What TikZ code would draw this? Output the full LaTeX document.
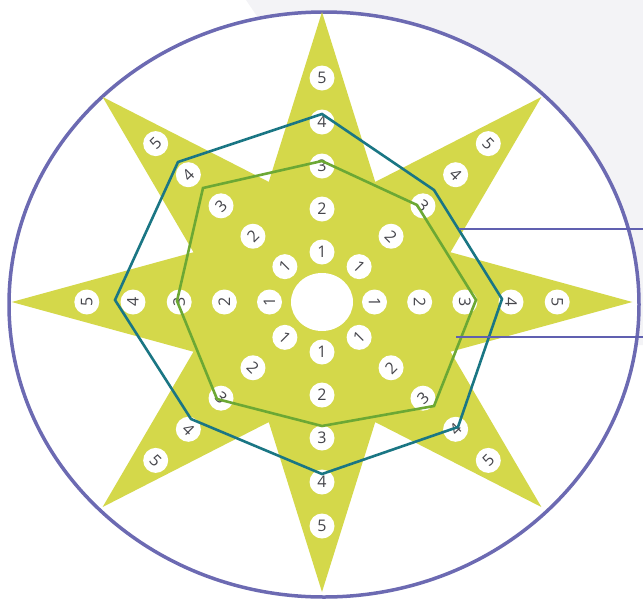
\documentclass[tikz,border=0pt]{standalone}
\usepackage{fontspec}
\setsansfont{Open Sans}
\definecolor{starfill}{RGB}{212,216,74}
\definecolor{rim}{RGB}{108,106,178}
\definecolor{tealline}{RGB}{26,118,132}
\definecolor{greenline}{RGB}{108,168,52}
\definecolor{digitgray}{RGB}{70,70,76}
\definecolor{bgshade}{RGB}{243,243,246}
\definecolor{leader}{RGB}{96,96,176}
\tikzset{
  numdot/.style={circle, fill=white, inner sep=0pt, minimum size=25pt,
    font=\sffamily\fontsize{16}{16}\selectfont, text=digitgray},
  octo/.style={line width=2.6pt, line join=miter},
  leadline/.style={draw=leader, line width=1.2pt}
}
\begin{document}
\begin{tikzpicture}[x=1pt,y=-1pt]
\useasboundingbox (0,0) rectangle (643,598);
% faint page shading top right
\fill[bgshade] (246,0) -- (643,0) -- (643,345) -- (480,345) -- cycle;
% outer ellipse
\draw[rim, line width=3.5pt, fill=white] (324,304.5) ellipse [x radius=315, y radius=292.5];
% star
\fill[starfill] (632.3,302)
  \foreach \i [evaluate=\i as \r using {isodd(\i)?130:290}] in {1,...,15}
  { -- ({322+1.07*\r*cos(22.5*\i)},{302-\r*sin(22.5*\i)}) } -- cycle;
% central hole
\fill[white] (322,302) ellipse [x radius=31, y radius=29];
% numbered dots
\foreach \a [count=\k] in {0,45,...,315} {
  \pgfmathsetmacro\rot{\a<=180 ? \a-90 : \a-270}
  \foreach \n/\r in {1/50,2/93,3/136,4/180,5/224} {
    \node[numdot, rotate=\rot] (d\k-\n) at ({322+1.05*\r*cos(\a)},{302-\r*sin(\a)}) {\n};
  }
}
% octagons
\draw[octo, greenline] (322,161) -- (417,205) -- (476,300) -- (434,406) -- (322,426)
  -- (217,399) -- (177,301) -- (203,188) -- cycle;
\draw[octo, tealline] (322,114) -- (434,190) -- (502,299) -- (458,427) -- (322,474)
  -- (191,419) -- (115,300) -- (178,162) -- cycle;
% leader lines
\coordinate (tealpt) at (458.5,229);
\coordinate (tealend) at (643,229);
\coordinate (greenpt) at (456,337);
\coordinate (greenend) at (643,337);
\draw[leadline] (tealpt) -- (tealend);
\draw[leadline] (greenpt) -- (greenend);
\end{tikzpicture}
\end{document}
